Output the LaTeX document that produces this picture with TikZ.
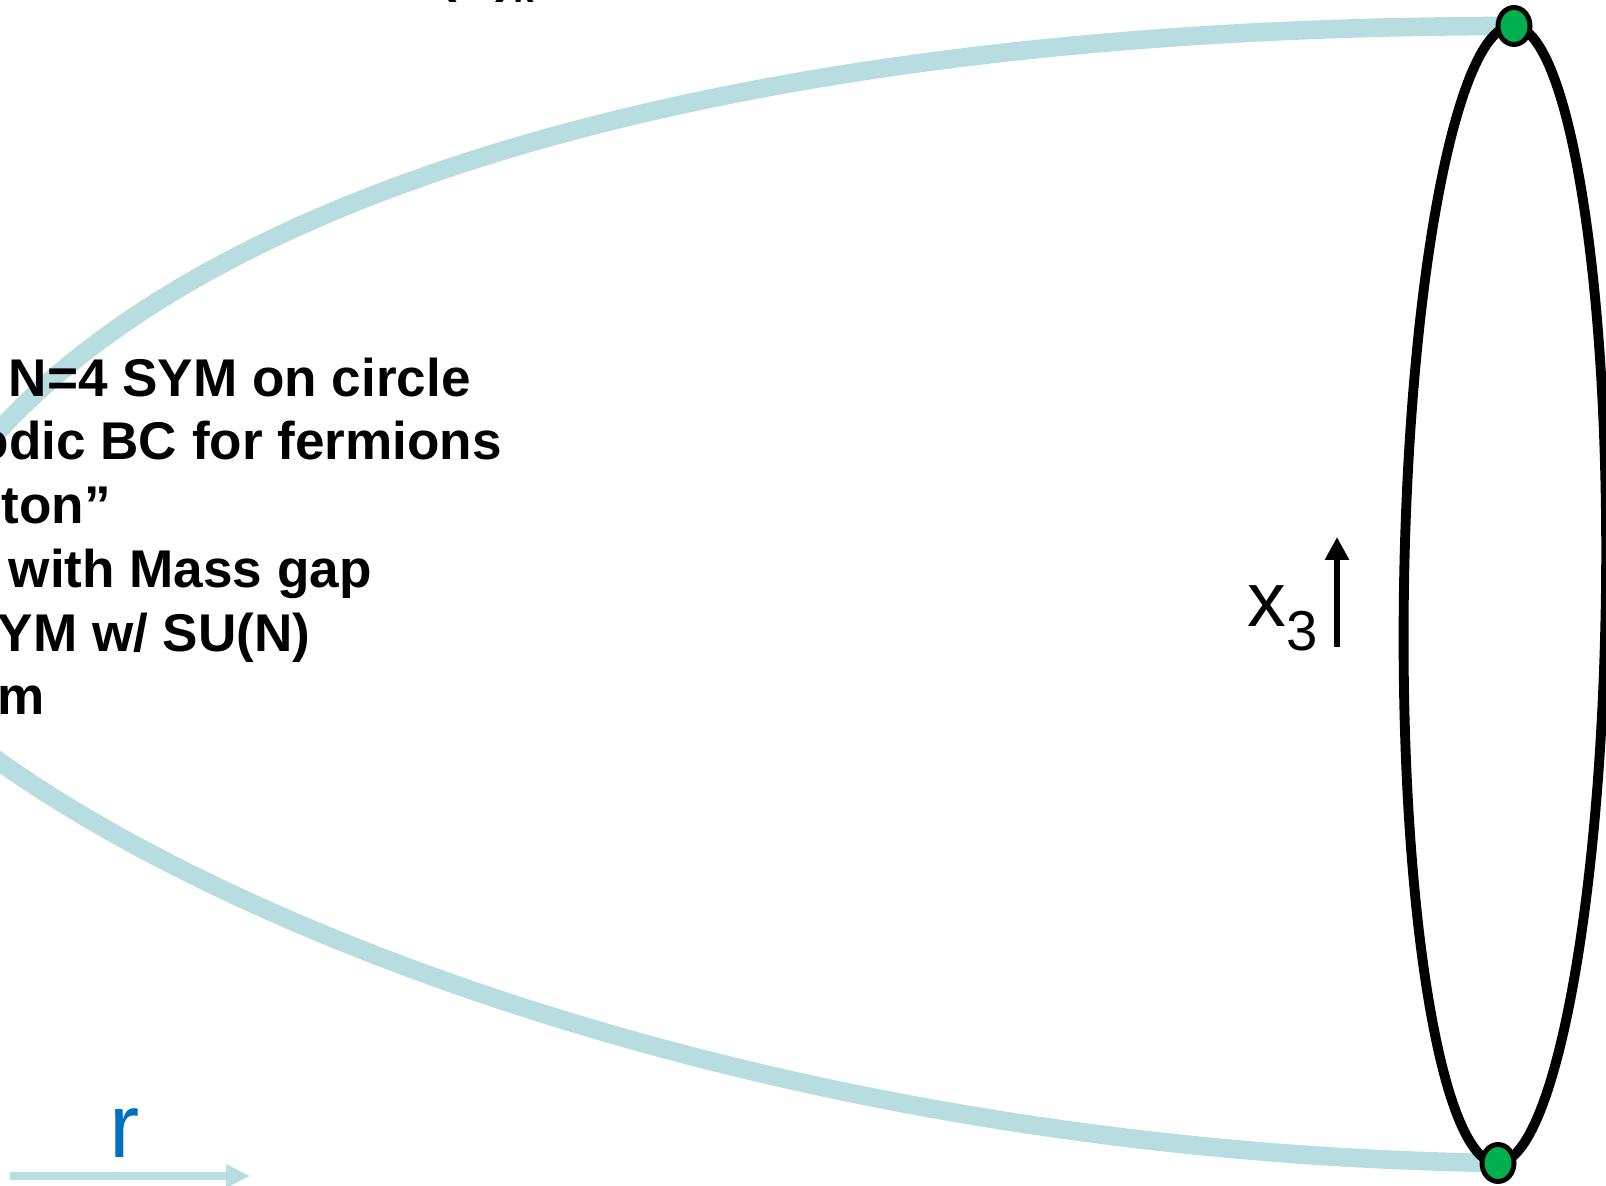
\documentclass[tikz,border=0pt]{standalone}
\usepackage{fontspec}
\setmainfont{Liberation Sans}
\definecolor{CigarBlue}{HTML}{B7DDE0}
\definecolor{DotGreen}{HTML}{00B050}
\definecolor{LabelBlue}{HTML}{0070C0}
\usetikzlibrary{arrows.meta, shapes.geometric}
\tikzset{
   cigar/.style={CigarBlue, line width=5.3pt},
   endpt/.style={ellipse, draw=black, line width=1.4pt, fill=DotGreen,
      minimum width=0.32cm, minimum height=0.37cm, inner sep=0pt},
   bodytext/.style={anchor=base west, inner sep=0pt,
      font=\fontsize{15.1}{18}\selectfont\bfseries}
}

\begin{document}
\begin{tikzpicture}[x=0.01cm, y=-0.01cm]
            \useasboundingbox (0,0) rectangle (1606,1186);
            \clip (0,0) rectangle (1606,1186);
            % Ends of the cigar on the circle
            \coordinate (tip) at (1514,26);
            \coordinate (foot) at (1498,1163);
            \coordinate (mid) at (1505,594.5);
            % Cigar (light blue), its nose lies left of the frame
            \draw[cigar] (tip) .. controls (814,26) and (256,160.5) .. (6,423)
               .. controls (-34,465) and (-100,540) .. (-100,600)
               .. controls (-100,650) and (-60,719) .. (0,762)
               .. controls (250,940) and (798,1152) .. (foot);
            % Circle of x_3
            \draw[line width=2.8pt, rotate around={-0.8:(mid)}]
               (mid) ellipse [x radius=101, y radius=568.6];
            \node[endpt] (top) at (tip) {};
            \node[endpt] (bot) at (foot) {};
            % x_3 direction
            \coordinate (xfrom) at (1337,647);
            \coordinate (xto) at (1337,537);
            \draw[line width=1.85pt, -{Triangle[length=6.5pt, width=6.5pt]}] (xfrom) -- (xto);
            \node[anchor=base west, inner sep=0pt, font=\fontsize{22}{26}\selectfont]
               (xlab) at (1247,627) {x\raisebox{-6.8pt}{\fontsize{16}{19}\selectfont 3}};
            % r direction
            \coordinate (rfrom) at (10,1176);
            \coordinate (rto) at (250,1176);
            \draw[CigarBlue, line width=2.3pt, -{Triangle[length=6.8pt, width=6.3pt]}] (rfrom) -- (rto);
            \node[anchor=base west, inner sep=0pt, text=LabelBlue,
               font=\fontsize{25.8}{30}\selectfont] (rlab) at (109,1157) {r};
            % Text, cut by the frame
            \node[bodytext] (head) at (439,-8) {(N)\raisebox{-3pt}{\fontsize{10.5}{12}\selectfont k}};
            \node[bodytext] (line1) at (8,397) {N=4 SYM on circle};
            \node[bodytext] (line2) at (-24,460) {odic BC for fermions};
            \node[bodytext] (line3) at (1,524) {ton”};
            \node[bodytext] (line4) at (8,588) {with Mass gap};
            \node[bodytext] (line5) at (-3,652) {YM w/ SU(N)};
            \node[bodytext] (line6) at (-3,715) {m};
         \end{tikzpicture}
\end{document}
